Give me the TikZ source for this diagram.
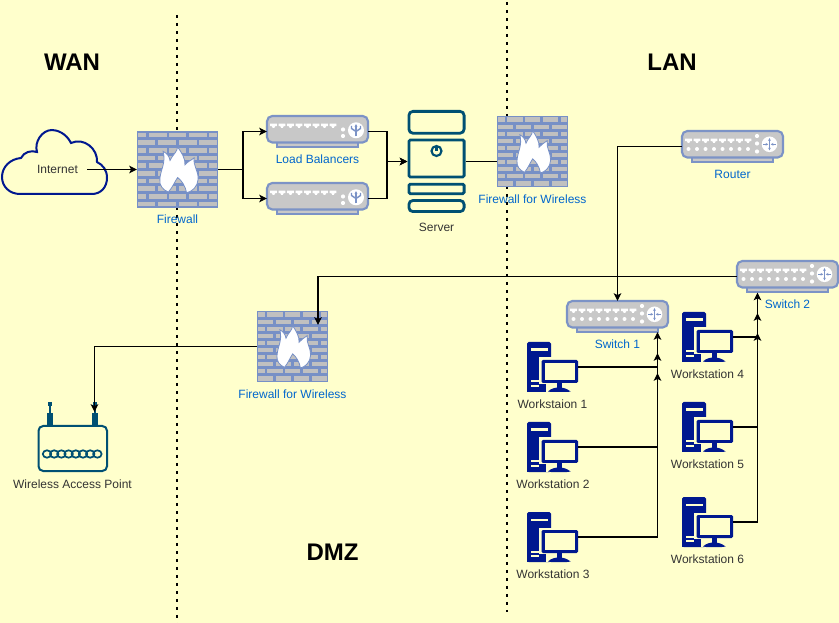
\documentclass[tikz,border=0pt]{standalone}
\usepackage{fontspec}
\setmainfont{Liberation Sans}
\usetikzlibrary{arrows.meta}
\definecolor{bgc}{HTML}{FFFFCC}
\definecolor{wall}{HTML}{7790C6}
\definecolor{brickc}{HTML}{C0C0C0}
\definecolor{devedge}{HTML}{7C93C6}
\definecolor{devfill}{HTML}{C8C8C8}
\definecolor{teal}{HTML}{005073}
\definecolor{navy}{HTML}{00188F}
\definecolor{lblue}{HTML}{0066CC}
\definecolor{ltxt}{HTML}{333333}
\tikzset{
  x=.75pt,y=-.75pt,
  iconbox/.style n args={2}{inner sep=0pt,outer sep=0pt,minimum width=#1*.75pt,minimum height=#2*.75pt,anchor=north west},
  conn/.style={draw=black,line width=.8pt,-{Stealth[length=5.8pt,width=5.6pt,inset=1.4pt]}},
  plain/.style={draw=black,line width=.8pt},
  dotline/.style={black,line width=1.9pt,dash pattern=on 1.9pt off 4.1pt},
  lab/.style={font=\fontsize{9}{11}\selectfont,text=ltxt,inner sep=0pt},
  blab/.style={font=\fontsize{9}{11}\selectfont,text=lblue,inner sep=0pt},
  zone/.style={font=\fontsize{18}{22}\selectfont\bfseries,text=black,inner sep=0pt},
  brick/.style={fill=brickc},
  arr/.style={draw=devedge,line width=.5pt,-{Stealth[length=2pt,width=2pt]}},
}
% firewall: name, left, top, width, height
\newcommand{\fwicon}[5]{%
  \node[iconbox={#4}{#5}] (#1) at (#2,#3) {};
  \begin{scope}[shift={(#2,#3)},xscale=#4,yscale=#5]
    \fill[wall] (0,0) rectangle (1,1);
    \foreach \r in {0,2,4,6,8}
      \foreach \a/\b in {.015/.11,.145/.365,.395/.61,.645/.865,.895/.985}
        \fill[brick] (\a,{\r*.1+.02}) rectangle (\b,{\r*.1+.08});
    \foreach \r in {1,3,5,7,9}
      \foreach \a/\b in {.015/.225,.265/.485,.52/.735,.77/.985}
        \fill[brick] (\a,{\r*.1+.02}) rectangle (\b,{\r*.1+.08});
    \path[fill=white,draw=wall,line width=.6pt]
      (.388,.793) .. controls (.32,.77) and (.27,.70) .. (.282,.626)
      .. controls (.29,.5) and (.36,.42) .. (.322,.264)
      .. controls (.37,.29) and (.40,.33) .. (.408,.383)
      .. controls (.43,.32) and (.50,.27) .. (.502,.207)
      .. controls (.55,.28) and (.60,.36) .. (.592,.44)
      .. controls (.62,.40) and (.67,.38) .. (.706,.348)
      .. controls (.69,.45) and (.76,.52) .. (.755,.626)
      .. controls (.75,.72) and (.68,.79) .. (.612,.802)
      .. controls (.60,.72) and (.55,.64) .. (.502,.604)
      .. controls (.47,.65) and (.44,.73) .. (.388,.793) -- cycle;
  \end{scope}}
% device body: name, left, top
\newcommand{\devbody}[3]{%
  \node[iconbox={101}{31}] (#1) at (#2,#3) {};
  \begin{scope}[shift={(#2,#3)}]
    \path[fill=devfill,draw=devedge,line width=.9pt] (10,26) rectangle (91,31);
    \path[fill=devfill,draw=devedge,line width=1.6pt,rounded corners=4pt] (0,0) rectangle (101,26.5);
    \foreach \i in {0,...,7}
      \fill[white] ({6.5+8.5*\i-3.4},7.6) -- ++(6.8,0) -- ++(0,2.6) -- ++(-1.7,0) -- ++(-1,1.8) -- ++(-1.4,0) -- ++(-1,-1.8) -- ++(-1.7,0) -- cycle;
  \end{scope}}
\newcommand{\swicon}[3]{%
  \devbody{#1}{#2}{#3}
  \begin{scope}[shift={(#2,#3)}]
    \foreach \i in {0,...,7} \fill[white] ({6.5+8.5*\i},18) circle (2);
    \foreach \yy in {5,12.5,20.5} \fill[white] (75,\yy) circle (2.1);
    \fill[white] (87.5,13.3) circle (7.8);
    \draw[arr] (87.5,13.3) -- (87.5,7.2);
    \draw[arr] (87.5,13.3) -- (87.5,19.4);
    \draw[arr] (81.4,13.3) -- (86.2,13.3);
    \draw[arr] (93.6,13.3) -- (88.8,13.3);
  \end{scope}}
\newcommand{\lbicon}[3]{%
  \devbody{#1}{#2}{#3}
  \begin{scope}[shift={(#2,#3)}]
    \foreach \yy in {13.5,20} \fill[white] (76,\yy) circle (2.1);
    \fill[white] (89,14.3) circle (8);
    \draw[arr,line width=1.1pt] (89,20.5) -- (89,8.2);
    \draw[draw=devedge,line width=1.1pt] (89,15.5) -- (84.5,12.5) -- (84.5,10);
    \draw[draw=devedge,line width=1.1pt] (89,15.5) -- (93.5,12.5) -- (93.5,10);
  \end{scope}}
% workstation: name, left, top
\newcommand{\wsicon}[3]{%
  \node[iconbox={51}{50}] (#1) at (#2,#3) {};
  \begin{scope}[shift={(#2,#3)}]
    \fill[navy,rounded corners=1.2pt] (0,0) rectangle (24,50);
    \fill[bgc] (12,15.5) rectangle (52,50);
    \fill[navy] (0,15) rectangle (12,50);
    \fill[navy] (12,42) rectangle (19,50);
    \fill[bgc] (4.3,6.5) rectangle (21,9);
    \fill[bgc] (4.3,38.5) rectangle (12,40.5);
    \fill[bgc] (4.3,43) rectangle (12,45);
    \fill[navy,rounded corners=1pt] (14.5,18) rectangle (51,41);
    \fill[bgc] (17.5,21) rectangle (48,38);
    \fill[navy] (29.5,41) rectangle (34.5,46);
    \fill[navy] (21,49.5) .. controls (24,46.5) and (28,45.5) .. (32,45.5) .. controls (36,45.5) and (40,46.5) .. (43.5,49.5) -- (40,50) -- (24,50) -- cycle;
  \end{scope}}
\begin{document}
\begin{tikzpicture}
\useasboundingbox (0,0) rectangle (839,623);
\fill[bgc] (0,0) rectangle (839,623);
% zone dividers
\coordinate (d1a) at (177,15); \coordinate (d1b) at (177,623);
\coordinate (d2a) at (507,2); \coordinate (d2b) at (507,612);
\draw[dotline] (d1a) -- (d1b);
\draw[dotline] (d2a) -- (d2b);
% zone titles
\node[zone] (wan) at (72,62) {WAN};
\node[zone] (lan) at (672,62) {LAN};
\node[zone] (dmz) at (332.5,552) {DMZ};
% cloud
\path[draw=navy,fill=bgc,line width=1.5pt] (20,194) -- (92,194) .. controls (101,194) and (107,187) .. (107,178)
  .. controls (107,170) and (103,165) .. (97,162) .. controls (98,149) and (84,137) .. (71,143)
  .. controls (66,133) and (57,130) .. (52,130) .. controls (42,130) and (34,142) .. (37,152)
  .. controls (31,150) and (24,152) .. (21,158) .. controls (10,159) and (2,167) .. (2,177)
  .. controls (2,187) and (10,194) .. (20,194) -- cycle;
\node[lab] (inet) at (57.5,169) {Internet};
% firewalls
\fwicon{fw1}{137}{131}{81}{77}
\fwicon{fw2}{497}{116}{71}{71}
\fwicon{fw3}{257}{311}{71}{71}
\node[blab] (fw1l) at (177.5,219) {Firewall};
\node[blab] (fw2l) at (532.5,199.5) {Firewall for Wireless};
\node[blab] (fw3l) at (292.5,394.5) {Firewall for Wireless};
% load balancers
\lbicon{lb1}{267}{116}
\lbicon{lb2}{267}{183}
\node[blab] (lb1l) at (317.5,159.5) {Load Balancers};
% server
\node[iconbox={58}{103}] (srv) at (407.5,110) {};
\begin{scope}[shift={(407.5,110)},draw=teal,line width=2.1pt]
  \draw[rounded corners=3pt] (1.4,23.2) -- (1.4,1.4) -- (56.6,1.4) -- (56.6,23.2) -- cycle;
  \draw[rounded corners=1pt] (1.4,30) rectangle (56.6,67);
  \draw[rounded corners=1pt] (1.4,74.2) rectangle (56.6,83.7);
  \draw[rounded corners=3pt] (1.4,90.5) -- (56.6,90.5) -- (56.6,101.6) -- (1.4,101.6) -- cycle;
  \draw[line width=1.6pt] (29,41) circle (5);
  \draw[line width=1.6pt] (29,37.5) -- (29,41.5);
\end{scope}
\node[lab] (srvl) at (436.5,227.5) {Server};
% switches and router
\swicon{rt}{682}{131}
\swicon{sw2}{737}{261}
\swicon{sw1}{567}{301}
\node[blab] (rtl) at (732.5,174.5) {Router};
\node[blab] (sw2l) at (787.5,304.5) {Switch 2};
\node[blab] (sw1l) at (617.5,344.5) {Switch 1};
% workstations
\wsicon{w1}{527}{342}
\wsicon{w2}{527}{422}
\wsicon{w3}{527}{512}
\wsicon{w4}{682}{312}
\wsicon{w5}{682}{402}
\wsicon{w6}{682}{497}
\node[lab] (w1l) at (552.5,404.5) {Workstaion 1};
\node[lab] (w2l) at (553,484.5) {Workstation 2};
\node[lab] (w3l) at (553,574.5) {Workstation 3};
\node[lab] (w4l) at (707.5,374.5) {Workstation 4};
\node[lab] (w5l) at (707.5,464.5) {Workstation 5};
\node[lab] (w6l) at (707.5,559.5) {Workstation 6};
% access point
\node[iconbox={69}{45}] (ap) at (38,426) {};
\draw[teal,line width=1.5pt,rounded corners=3.5pt] (38.5,426) rectangle (107,471);
\foreach \ax in {50,94.5} {
  \fill[teal] ({\ax-3},413) rectangle ({\ax+3},426);
  \fill[teal] ({\ax-1},405) rectangle ({\ax+1},413);
  \fill[teal] ({\ax-2},402) rectangle ({\ax+2},406);
}
\foreach \i in {0,...,7}
  \draw[teal,line width=1.3pt] ({47+7.2*\i},454) ellipse (4.2 and 3.7);
\node[lab] (apl) at (72.5,484.5) {Wireless Access Point};
% connector junctions
\coordinate (inetout) at (87,169.5);
\coordinate (fwj) at (243,169.5);
\coordinate (lbj) at (387,161.5);
\coordinate (fw3in) at (318,325);
\coordinate (apin) at (94.5,412);
\coordinate (bus1a) at (657.5,332);
\coordinate (bus1b) at (657.5,353);
\coordinate (bus1c) at (657.5,373);
\coordinate (bus2a) at (757.5,292.5);
\coordinate (bus2b) at (757.5,313);
\coordinate (bus2c) at (757.5,333);
% connectors
\draw[conn] (inetout) -- (fw1.west);
\draw[conn] (fw1.east) -- (fwj) |- (lb1.west);
\draw[conn] (fw1.east) -- (fwj) |- (lb2.west);
\draw[conn] (lb1.east) -| (lbj) -- (srv.west);
\draw[conn] (lb2.east) -| (lbj) -- (srv.west);
\draw[plain] (srv.east) -- (srv.east -| fw2.west);
\draw[conn] (rt.west) -| (sw1.north);
\draw[conn] (sw2.west) -| (fw3in);
\draw[conn] (fw3.west) -| (apin);
\draw[conn] (w1.east) -| (bus1a);
\draw[conn] (w2.east) -| (bus1b);
\draw[conn] (w3.east) -| (bus1c);
\draw[conn] (w4.east) -| (bus2a);
\draw[conn] (w5.east) -| (bus2b);
\draw[conn] (w6.east) -| (bus2c);
\end{tikzpicture}
\end{document}
